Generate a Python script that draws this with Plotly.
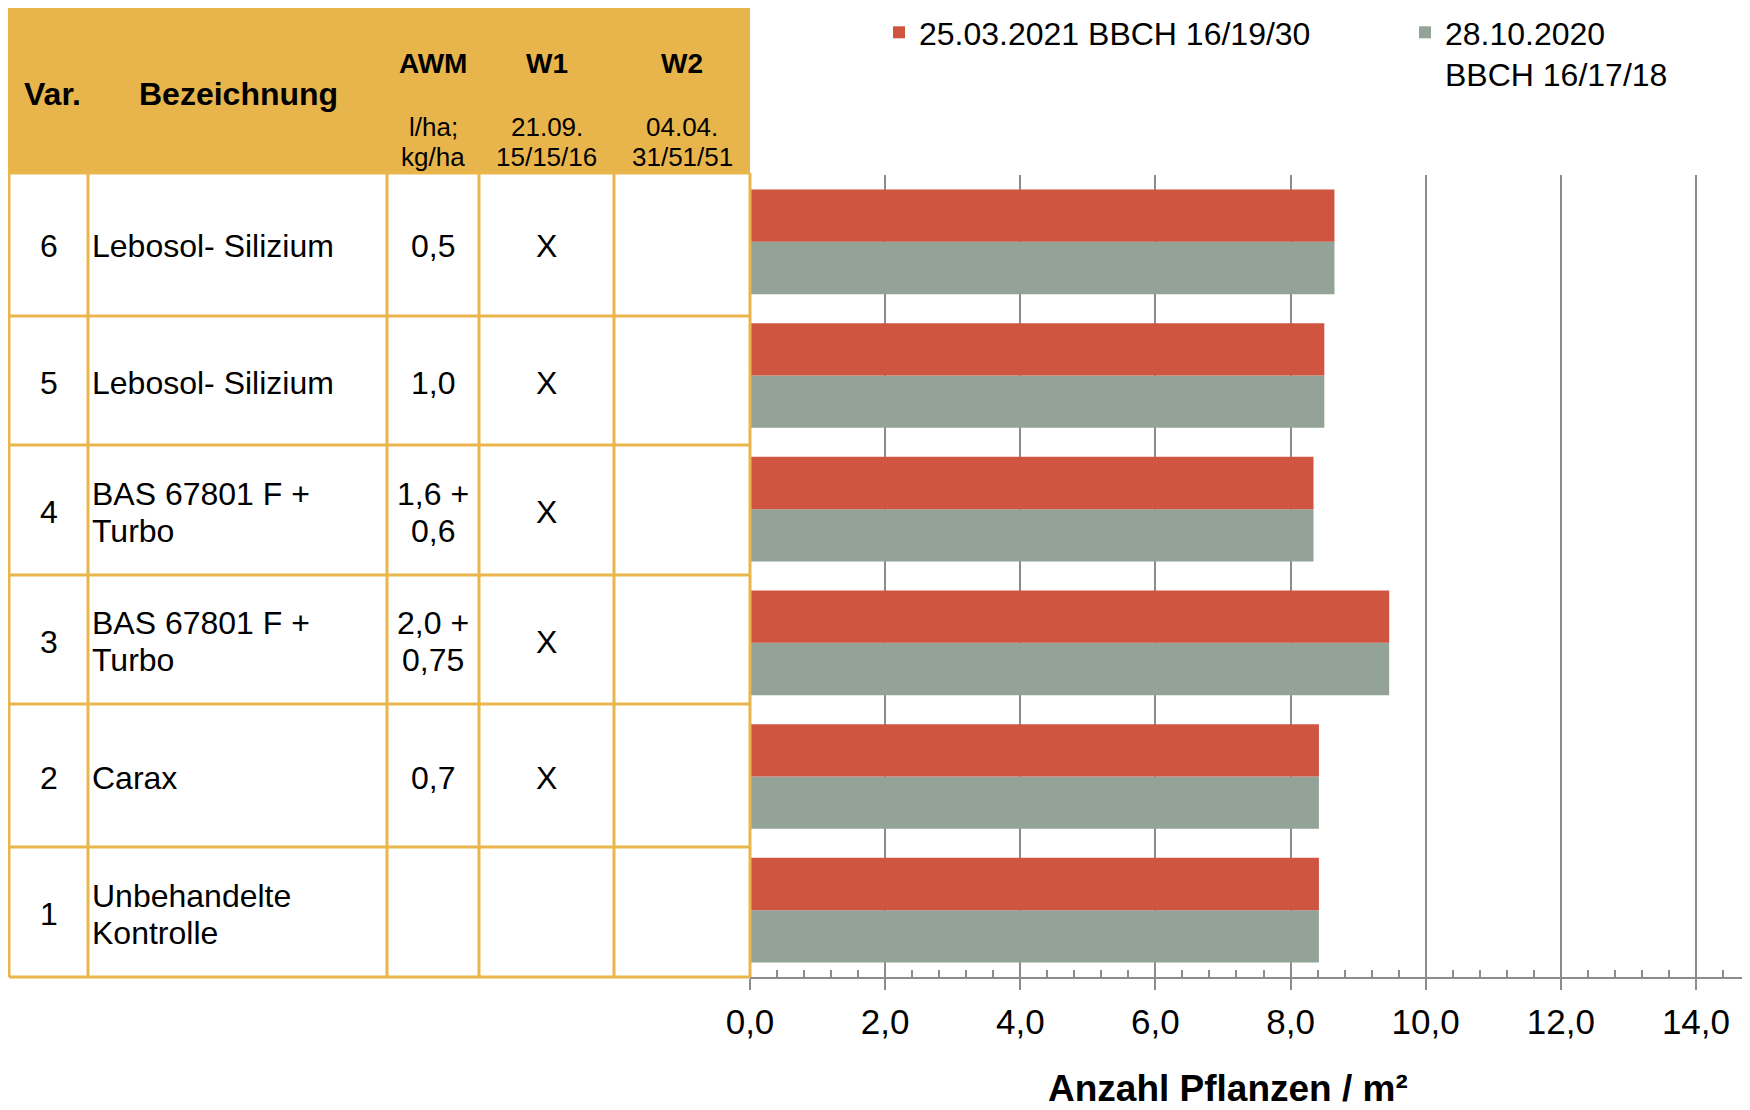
import plotly.graph_objects as go

# ---------------- data ----------------
var_nr = ["6", "5", "4", "3", "2", "1"]
bezeichnung = ["Lebosol- Silizium", "Lebosol- Silizium", "BAS 67801 F +\nTurbo",
               "BAS 67801 F +\nTurbo", "Carax", "Unbehandelte\nKontrolle"]
awm = ["0,5", "1,0", "1,6 +\n0,6", "2,0 +\n0,75", "0,7", ""]
w1 = ["X", "X", "X", "X", "X", ""]
w2 = ["", "", "", "", "", ""]

values_2021 = [8.65, 8.50, 8.34, 9.46, 8.42, 8.42]
values_2020 = [8.65, 8.50, 8.34, 9.46, 8.42, 8.42]
name_2021 = "25.03.2021 BBCH 16/19/30"
name_2020 = "28.10.2020<br>BBCH 16/17/18"

header_main = ["Var.", "Bezeichnung"]
header_cols = [["AWM", "l/ha;", "kg/ha"], ["W1", "21.09.", "15/15/16"], ["W2", "04.04.", "31/51/51"]]
category_order = ["1", "2", "3", "4", "5", "6"]

x_title = "Anzahl Pflanzen / m²"

# ---------------- styling / layout ----------------
OFF = 8                      # page body margin of the html page
W, H = 1750 - OFF, 1110 - OFF
# plot area in screen pixels
PL, PR, PT, PB = 750, 1750, 175, 977
FONT = "Liberation Sans, Arial, sans-serif"
RED = "#CF5540"
GRAY = "#93A398"
GOLD = "#E8B54C"
LINE_GOLD = "#EAB54A"
AXIS_GRAY = "#8C8C8C"

col_edges = [9, 88, 387, 479, 614, 750]
row_edges = [173, 316, 445, 575, 704, 847, 977]
header_top = 8


def px_x(p):
    return (p - PL) / (PR - PL)


def px_y(p):
    return (PB - p) / (PB - PT)


fig = go.Figure()
fig.add_trace(go.Bar(y=var_nr, x=values_2020, orientation="h", name=name_2020,
                     marker=dict(color=GRAY, line=dict(width=0)), legend="legend2"))
fig.add_trace(go.Bar(y=var_nr, x=values_2021, orientation="h", name=name_2021,
                     marker=dict(color=RED, line=dict(width=0)), legend="legend"))

shapes = []
annotations = []

# header background
shapes.append(dict(type="rect", xref="paper", yref="paper",
                   x0=px_x(col_edges[0]), x1=px_x(col_edges[-1]),
                   y0=px_y(row_edges[0]), y1=px_y(header_top),
                   fillcolor=GOLD, line=dict(width=0), layer="above"))
# table grid lines
for ry in row_edges:
    shapes.append(dict(type="line", xref="paper", yref="paper",
                       x0=px_x(col_edges[0]), x1=px_x(col_edges[-1]), y0=px_y(ry), y1=px_y(ry),
                       line=dict(color=LINE_GOLD, width=3), layer="above"))
for cx in col_edges:
    shapes.append(dict(type="line", xref="paper", yref="paper",
                       x0=px_x(cx), x1=px_x(cx), y0=px_y(row_edges[0]), y1=px_y(row_edges[-1]),
                       line=dict(color=LINE_GOLD, width=3), layer="above"))
shapes.append(dict(type="line", xref="paper", yref="paper",
                   x0=px_x(col_edges[0]), x1=px_x(col_edges[0]), y0=px_y(row_edges[0]), y1=px_y(header_top),
                   line=dict(color=LINE_GOLD, width=3), layer="above"))


def add_text(text, x, y, size, bold=False, xanchor="center"):
    if bold:
        text = "<b>" + text + "</b>"
    annotations.append(dict(text=text, xref="paper", yref="paper", x=px_x(x), y=px_y(y),
                            xanchor=xanchor, yanchor="middle", showarrow=False,
                            font=dict(family=FONT, size=size, color="black")))


# header texts
add_text(header_main[0], 52, 94, 32, bold=True)
add_text(header_main[1], 238, 94, 32, bold=True)
col_centers = [(col_edges[i] + col_edges[i + 1]) / 2 for i in range(len(col_edges) - 1)]
for j, lines in enumerate(header_cols):
    cx = col_centers[2 + j]
    add_text(lines[0], cx, 63, 28, bold=True)
    add_text(lines[1], cx, 127, 26)
    add_text(lines[2], cx, 157, 26)

# body texts
LS = 37
for i in range(len(var_nr)):
    cy = (row_edges[i] + row_edges[i + 1]) / 2 + 2
    cells = [(var_nr[i], col_centers[0], "center"),
             (bezeichnung[i], col_edges[1] + 2, "left"),
             (awm[i], col_centers[2], "center"),
             (w1[i], col_centers[3], "center"),
             (w2[i], col_centers[4], "center")]
    for txt, cx, anchor in cells:
        if not txt:
            continue
        lines = txt.split("\n")
        n = len(lines)
        for k, ln in enumerate(lines):
            ly = cy + (k - (n - 1) / 2) * LS
            add_text(ln, cx, ly, 32, xanchor=anchor)

# axis title (placed as in the reference, slightly left of plot centre)
add_text(x_title, 1228, 1088, 37, bold=True)

legend_common = dict(orientation="h", xanchor="left", yanchor="top", valign="top",
                     font=dict(family=FONT, size=32, color="black"), bgcolor="rgba(0,0,0,0)")

fig.update_layout(
    width=W, height=H,
    margin=dict(l=PL - OFF, r=0, t=PT - OFF, b=H - (PB - OFF), autoexpand=False),
    paper_bgcolor="white", plot_bgcolor="white",
    barmode="group", bargap=0.2165, bargroupgap=0,
    separators=",.",
    font=dict(family=FONT, color="black"),
    shapes=shapes, annotations=annotations,
    showlegend=True,
    legend=dict(x=px_x(879), y=px_y(5), **legend_common),
    legend2=dict(x=px_x(1405), y=px_y(5), **legend_common),
    xaxis=dict(range=[0, 14.8], tick0=0, dtick=2, tickformat=".1f",
               ticks="outside", ticklen=11, tickwidth=2, tickcolor=AXIS_GRAY,
               showgrid=True, gridcolor=AXIS_GRAY, gridwidth=2,
               showline=True, linecolor=AXIS_GRAY, linewidth=2, zeroline=False,
               minor=dict(dtick=0.4, ticks="inside", ticklen=7, tickwidth=2,
                          tickcolor=AXIS_GRAY, showgrid=False),
               ticklabelstandoff=2,
               tickfont=dict(family=FONT, size=35, color="black")),
    yaxis=dict(categoryorder="array", categoryarray=category_order,
               showticklabels=False, showgrid=False, showline=False, zeroline=False, ticks=""),
)

fig.write_html("out.html")
